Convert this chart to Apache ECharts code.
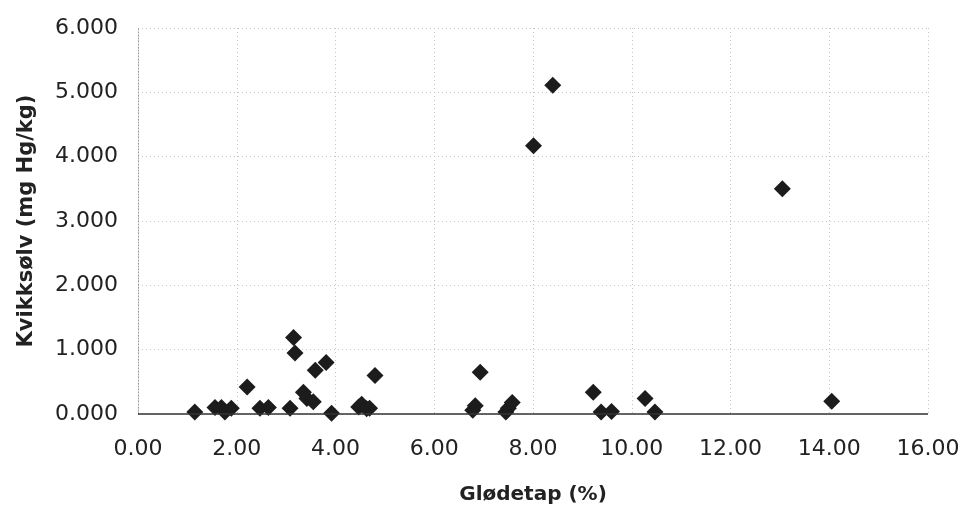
<!DOCTYPE html>
<html><head><meta charset="utf-8">
<script src="https://cdn.jsdelivr.net/npm/echarts@6/dist/echarts.min.js"></script>
<style>html,body{margin:0;padding:0;background:#fff}#c{width:963px;height:511px}</style>
</head><body><div id="c"></div>
<script>
const xTicks = [0, 2, 4, 6, 8, 10, 12, 14, 16];
const yTicks = [0, 1, 2, 3, 4, 5, 6];
const glodetap = [1.15, 1.56, 1.69, 1.76, 1.89, 2.21, 2.47, 2.64, 3.08, 3.15, 3.18, 3.35, 3.42, 3.55, 3.59, 3.81, 3.92, 4.47, 4.53, 4.63, 4.69, 4.80,
  6.78, 6.83, 6.93, 7.45, 7.50, 7.58, 8.01, 8.40, 9.22, 9.38, 9.59, 10.27, 10.47, 13.05, 14.05];
const kvikksolv = [0.03, 0.10, 0.10, 0.03, 0.09, 0.42, 0.09, 0.10, 0.09, 1.19, 0.95, 0.34, 0.24, 0.19, 0.68, 0.80, 0.01, 0.11, 0.15, 0.08, 0.09, 0.60,
  0.06, 0.13, 0.65, 0.03, 0.09, 0.18, 4.17, 5.11, 0.34, 0.03, 0.04, 0.24, 0.03, 3.50, 0.20];

const pts = glodetap.map((x, i) => [x, kvikksolv[i]]);
const chart = echarts.init(document.getElementById('c'));
const font = 'DejaVu Sans, sans-serif';
chart.setOption({
  animation: false,
  grid: { left: 138, right: 35, top: 28, bottom: 97 },
  xAxis: {
    type: 'value', min: xTicks[0], max: xTicks[xTicks.length - 1], interval: 2,
    name: 'Glødetap (%)', nameLocation: 'middle', nameGap: 71,
    nameTextStyle: { fontFamily: font, fontSize: 20, fontWeight: 'bold', color: '#222' },
    axisLine: { show: false },
    axisTick: { show: false },
    axisLabel: { fontFamily: font, fontSize: 22, color: '#222', margin: 24, formatter: v => v.toFixed(2) },
    splitLine: { show: true, lineStyle: { color: '#c4c4c4', type: [1, 3], width: 1 } }
  },
  yAxis: {
    type: 'value', min: yTicks[0], max: yTicks[yTicks.length - 1], interval: 1,
    name: 'Kvikksølv (mg Hg/kg)', nameLocation: 'middle', nameGap: 101,
    nameTextStyle: { fontFamily: font, fontSize: 21, fontWeight: 'bold', color: '#222' },
    axisLine: { show: true, lineStyle: { color: '#999', type: [1, 2] } },
    axisTick: { show: false },
    axisLabel: { fontFamily: font, fontSize: 22, color: '#222', margin: 20, formatter: v => v.toFixed(3) },
    splitLine: { show: true, lineStyle: { color: '#c4c4c4', type: [1, 3], width: 1 } }
  },
  series: [{
    type: 'scatter', data: pts, symbol: 'diamond', symbolSize: 17,
    itemStyle: { color: '#1c1c1c', opacity: 1 },
    markLine: {
      silent: true, symbol: 'none', label: { show: false },
      lineStyle: { color: '#333', type: 'solid', width: 1.5 },
      data: [{ yAxis: 0 }]
    }
  }]
});
</script></body></html>
